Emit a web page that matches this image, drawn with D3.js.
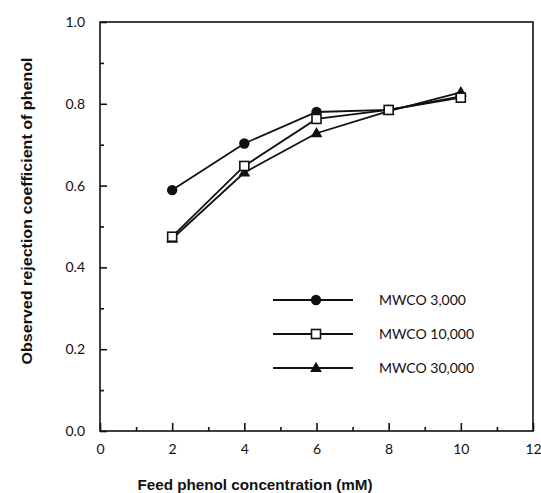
<!DOCTYPE html>
<html>
<head>
<meta charset="utf-8">
<script src="https://cdn.jsdelivr.net/npm/d3@7"></script>
<style>
  body { margin: 0; background: #fff; }
  .tick text { font-family: Lato, "Open Sans", sans-serif; font-size: 14px; fill: #111; }
  .title { font-family: "Liberation Sans", Arial, sans-serif; font-weight: bold; font-size: 15px; fill: #111; }
  .leg { font-family: Lato, "Open Sans", sans-serif; font-size: 14px; fill: #111; }
</style>
</head>
<body>
<div id="chart"></div>
<script>
// feed phenol concentration (mM)
var conc = [2, 4, 6, 8, 10];
var series_names = ["MWCO 3,000", "MWCO 10,000", "MWCO 30,000"];
var mwco3000  = [0.589, 0.703, 0.780, 0.785, 0.818];
var mwco10000 = [0.475, 0.648, 0.763, 0.785, 0.815];
var mwco30000 = [0.470, 0.632, 0.728, 0.782, 0.828];
var series_symbols = ["circle", "square", "triangle"];
var x_ticks = [0, 2, 4, 6, 8, 10, 12];
var y_ticks = [0, 0.2, 0.4, 0.6, 0.8, 1.0];

var width = 541, height = 493;
var p_left = 100, p_right = 533, p_top = 22, p_bottom = 431;

var svg = d3.select("#chart").append("svg")
  .attr("width", width)
  .attr("height", height);

var x = d3.scaleLinear().domain([0, 12]).range([p_left, p_right]);
var y = d3.scaleLinear().domain([0, 1]).range([p_bottom, p_top]);

// frame
svg.append("rect")
  .attr("x", p_left).attr("y", p_top)
  .attr("width", p_right - p_left).attr("height", p_bottom - p_top)
  .attr("fill", "none").attr("stroke", "#111").attr("stroke-width", 1.6);

// minor ticks (inside)
var gx_minor = svg.append("g").attr("transform", "translate(0," + p_bottom + ")")
  .call(d3.axisBottom(x).tickValues(d3.range(1, 12, 2)).tickSize(-4).tickFormat(""));
var gy_minor = svg.append("g").attr("transform", "translate(" + p_left + ",0)")
  .call(d3.axisLeft(y).tickValues([0.1, 0.3, 0.5, 0.7, 0.9]).tickSize(-4).tickFormat(""));

var gx = svg.append("g").attr("transform", "translate(0," + p_bottom + ")")
  .call(d3.axisBottom(x).tickValues(x_ticks).tickSize(-8).tickPadding(13).tickFormat(d3.format("d")));
var gy = svg.append("g").attr("transform", "translate(" + p_left + ",0)")
  .call(d3.axisLeft(y).tickValues(y_ticks).tickSize(-7).tickPadding(15).tickFormat(d3.format(".1f")));

[gx_minor, gy_minor, gx, gy].forEach(function (g) {
  g.select(".domain").remove();
  g.selectAll(".tick line").attr("stroke", "#111").attr("stroke-width", 1.6);
});

// titles
svg.append("text").attr("class", "title")
  .attr("x", 255).attr("y", 490)
  .attr("text-anchor", "middle")
  .attr("textLength", 235).attr("lengthAdjust", "spacingAndGlyphs")
  .text("Feed  phenol concentration (mM)");

svg.append("text").attr("class", "title")
  .attr("transform", "translate(32,211) rotate(-90)")
  .attr("text-anchor", "middle")
  .attr("textLength", 307).attr("lengthAdjust", "spacingAndGlyphs")
  .text("Observed rejection coefficient of phenol");

function draw_symbol(g, kind, cx, cy) {
  if (kind == "circle") {
    g.append("circle").attr("cx", cx).attr("cy", cy).attr("r", 5.2)
      .attr("fill", "#111");
  } else if (kind == "square") {
    g.append("rect").attr("x", cx - 4.5).attr("y", cy - 4.5)
      .attr("width", 9).attr("height", 9)
      .attr("fill", "#fff").attr("stroke", "#111").attr("stroke-width", 1.6);
  } else {
    g.append("path")
      .attr("d", d3.symbol().type(d3.symbolTriangle).size(60)())
      .attr("transform", "translate(" + cx + "," + (cy + 0.5) + ")")
      .attr("fill", "#111");
  }
}

var all_series = [mwco3000, mwco10000, mwco30000];
var line = d3.line().x(function (d) { return x(d[0]); }).y(function (d) { return y(d[1]); });

all_series.forEach(function (vals) {
  var pts = conc.map(function (c, i) { return [c, vals[i]]; });
  svg.append("path").attr("d", line(pts))
    .attr("fill", "none").attr("stroke", "#111").attr("stroke-width", 1.8);
});

// markers: triangles first, squares on top as in the figure
[2, 0, 1].forEach(function (s) {
  var g = svg.append("g");
  conc.forEach(function (c, i) {
    draw_symbol(g, series_symbols[s], x(c), y(all_series[s][i]));
  });
});

// legend
var leg_y = [300, 334, 368];
series_names.forEach(function (name, i) {
  var g = svg.append("g");
  g.append("line").attr("x1", 273).attr("x2", 353)
    .attr("y1", leg_y[i]).attr("y2", leg_y[i])
    .attr("stroke", "#111").attr("stroke-width", 1.8);
  draw_symbol(g, series_symbols[i], 316, leg_y[i]);
  g.append("text").attr("class", "leg")
    .attr("x", 379).attr("y", leg_y[i] + 5)
    .text(name);
});
</script>
</body>
</html>
